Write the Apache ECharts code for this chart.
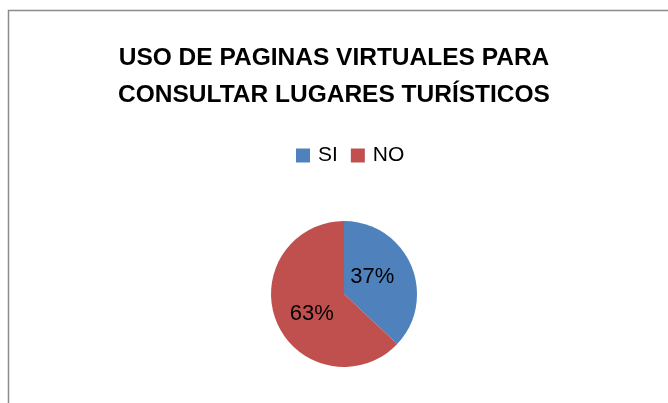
<!DOCTYPE html>
<html><head><meta charset="utf-8">
<script src="https://cdn.jsdelivr.net/npm/echarts@6/dist/echarts.min.js"></script>
<style>html,body{margin:0;padding:0;background:#fff}#c{width:668px;height:403px}</style>
</head><body><div id="c"></div>
<script>
const titleLines = ['USO DE PAGINAS VIRTUALES PARA', 'CONSULTAR LUGARES TURÍSTICOS'];
const categories = ['SI', 'NO'];
const values = [37, 63];
const colors = ['#4F81BD', '#C0504D'];

const chart = echarts.init(document.getElementById('c'));
chart.setOption({
  backgroundColor: '#fff',
  animation: false,
  graphic: [{
    type: 'rect', shape: {x: 8.5, y: 10.5, width: 700, height: 420},
    style: {fill: 'none', stroke: '#8c8c8c', lineWidth: 1.5}
  }],
  title: {
    text: titleLines.join('\n'),
    left: 'center', top: 35,
    textStyle: {fontFamily: 'Liberation Sans', fontWeight: 'bold', fontSize: 24.5, lineHeight: 37, color: '#000'}
  },
  legend: {
    data: categories, top: 140, left: 291,
    itemWidth: 14, itemHeight: 14, itemGap: 13, icon: 'rect',
    textStyle: {fontFamily: 'Liberation Sans', fontSize: 21, color: '#000', padding: [0, 0, 0, 3]}
  },
  series: [{
    type: 'pie', center: [344, 294], radius: 73,
    startAngle: 90, clockwise: true,
    label: {position: 'inside', formatter: '{d}%', fontFamily: 'Liberation Sans', fontSize: 22, color: '#000'},
    labelLine: {show: false},
    emphasis: {disabled: true},
    data: categories.map((c, i) => ({name: c, value: values[i], itemStyle: {color: colors[i]},
      label: {offset: i === 0 ? [-8, -1] : [4, 4]}}))
  }]
});
</script></body></html>
